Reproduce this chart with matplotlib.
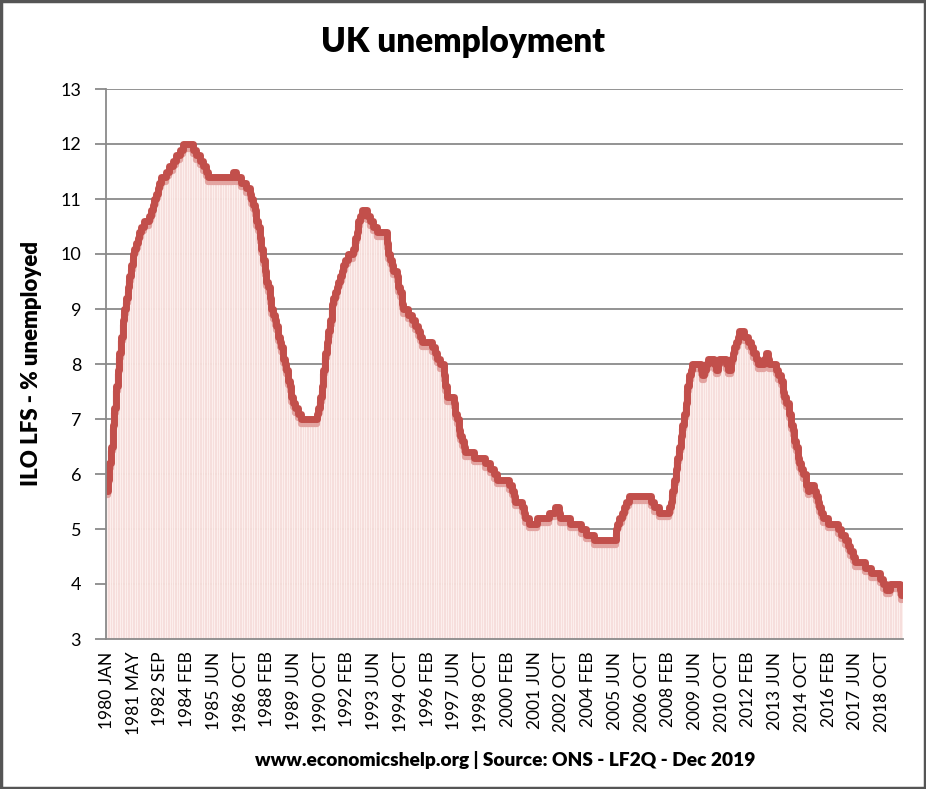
import matplotlib
matplotlib.use("Agg")
import matplotlib.pyplot as plt
import matplotlib.transforms as mtransforms
from matplotlib.patches import Rectangle
import numpy as np

plt.rcParams['font.family'] = ['Lato', 'DejaVu Sans']

# Monthly ILO unemployment rate (%), 1980 JAN onwards
rate = [
    5.7, 5.9, 6.2, 6.5, 6.9, 7.2, 7.6, 7.9, 8.2, 8.5, 8.8, 9.0,
    9.2, 9.4, 9.6, 9.8, 10.0, 10.1, 10.2, 10.3, 10.4, 10.5, 10.5, 10.6,
    10.6, 10.6, 10.7, 10.8, 10.9, 11.0, 11.1, 11.2, 11.3, 11.4, 11.4, 11.4,
    11.5, 11.5, 11.6, 11.6, 11.7, 11.7, 11.8, 11.8, 11.9, 11.9, 12.0, 12.0,
    12.0, 12.0, 12.0, 12.0, 11.9, 11.9, 11.8, 11.8, 11.7, 11.7, 11.6, 11.6,
    11.5, 11.4, 11.4, 11.4, 11.4, 11.4, 11.4, 11.4, 11.4, 11.4, 11.4, 11.4,
    11.4, 11.4, 11.4, 11.4, 11.5, 11.5, 11.4, 11.4, 11.4, 11.3, 11.3, 11.3,
    11.2, 11.2, 11.1, 11.0, 10.9, 10.8, 10.6, 10.5, 10.3, 10.1, 9.9, 9.7,
    9.5, 9.4, 9.2, 9.0, 8.9, 8.8, 8.7, 8.5, 8.4, 8.3, 8.1, 8.0,
    7.9, 7.7, 7.6, 7.4, 7.3, 7.2, 7.2, 7.1, 7.1, 7.0, 7.0, 7.0,
    7.0, 7.0, 7.0, 7.0, 7.0, 7.0, 7.1, 7.2, 7.4, 7.6, 7.9, 8.2,
    8.4, 8.6, 8.8, 9.1, 9.2, 9.3, 9.4, 9.5, 9.6, 9.7, 9.8, 9.9,
    9.9, 10.0, 10.0, 10.0, 10.1, 10.3, 10.4, 10.6, 10.7, 10.8, 10.8, 10.8,
    10.7, 10.7, 10.6, 10.6, 10.5, 10.5, 10.4, 10.4, 10.4, 10.4, 10.4, 10.4,
    10.2, 10.0, 9.9, 9.8, 9.7, 9.7, 9.6, 9.4, 9.3, 9.1, 9.0, 9.0,
    9.0, 8.9, 8.9, 8.8, 8.8, 8.7, 8.7, 8.6, 8.5, 8.4, 8.4, 8.4,
    8.4, 8.4, 8.4, 8.3, 8.3, 8.2, 8.1, 8.1, 8.0, 8.0, 7.8, 7.6,
    7.4, 7.4, 7.4, 7.4, 7.3, 7.1, 7.0, 6.8, 6.7, 6.6, 6.5, 6.4,
    6.4, 6.4, 6.4, 6.4, 6.3, 6.3, 6.3, 6.3, 6.3, 6.3, 6.3, 6.2,
    6.2, 6.2, 6.1, 6.1, 6.0, 6.0, 5.9, 5.9, 5.9, 5.9, 5.9, 5.9,
    5.9, 5.8, 5.8, 5.7, 5.6, 5.5, 5.5, 5.5, 5.5, 5.4, 5.3, 5.2,
    5.2, 5.1, 5.1, 5.1, 5.1, 5.1, 5.2, 5.2, 5.2, 5.2, 5.2, 5.2,
    5.2, 5.3, 5.3, 5.3, 5.3, 5.4, 5.4, 5.3, 5.2, 5.2, 5.2, 5.2,
    5.2, 5.2, 5.1, 5.1, 5.1, 5.1, 5.1, 5.1, 5.0, 5.0, 5.0, 4.9,
    4.9, 4.9, 4.9, 4.9, 4.8, 4.8, 4.8, 4.8, 4.8, 4.8, 4.8, 4.8,
    4.8, 4.8, 4.8, 4.8, 4.8, 5.0, 5.1, 5.2, 5.2, 5.3, 5.4, 5.5,
    5.5, 5.6, 5.6, 5.6, 5.6, 5.6, 5.6, 5.6, 5.6, 5.6, 5.6, 5.6,
    5.6, 5.6, 5.5, 5.5, 5.4, 5.4, 5.4, 5.3, 5.3, 5.3, 5.3, 5.3,
    5.3, 5.4, 5.5, 5.7, 5.9, 6.1, 6.3, 6.5, 6.7, 6.9, 7.1, 7.3,
    7.6, 7.8, 7.9, 8.0, 8.0, 8.0, 8.0, 8.0, 7.9, 7.8, 7.9, 8.0,
    8.1, 8.1, 8.1, 8.1, 8.0, 7.9, 8.0, 8.1, 8.1, 8.1, 8.1, 8.0,
    7.9, 7.9, 8.1, 8.2, 8.3, 8.4, 8.5, 8.6, 8.6, 8.6, 8.5, 8.5,
    8.4, 8.4, 8.3, 8.2, 8.2, 8.1, 8.0, 8.0, 8.0, 8.0, 8.1, 8.2,
    8.1, 8.0, 8.0, 8.0, 8.0, 7.9, 7.8, 7.8, 7.7, 7.5, 7.4, 7.3,
    7.3, 7.1, 6.9, 6.8, 6.6, 6.5, 6.3, 6.2, 6.1, 6.0, 6.0, 5.8,
    5.7, 5.8, 5.8, 5.8, 5.7, 5.6, 5.5, 5.4, 5.3, 5.2, 5.2, 5.2,
    5.1, 5.1, 5.1, 5.1, 5.1, 5.1, 5.0, 5.0, 4.9, 4.9, 4.8, 4.8,
    4.7, 4.6, 4.6, 4.5, 4.4, 4.4, 4.4, 4.4, 4.4, 4.4, 4.3, 4.3,
    4.3, 4.3, 4.2, 4.2, 4.2, 4.2, 4.2, 4.1, 4.1, 4.0, 4.0, 3.9,
    3.9, 4.0, 4.0, 4.0, 4.0, 4.0, 4.0, 3.9, 3.8,
]

tick_labels = [
    "1980 JAN", "1981 MAY", "1982 SEP", "1984 FEB", "1985 JUN", "1986 OCT",
    "1988 FEB", "1989 JUN", "1990 OCT", "1992 FEB", "1993 JUN", "1994 OCT",
    "1996 FEB", "1997 JUN", "1998 OCT", "2000 FEB", "2001 JUN", "2002 OCT",
    "2004 FEB", "2005 JUN", "2006 OCT", "2008 FEB", "2009 JUN", "2010 OCT",
    "2012 FEB", "2013 JUN", "2014 OCT", "2016 FEB", "2017 JUN", "2018 OCT",
]
label_step = 16

x = np.arange(len(rate))
vals = np.array(rate)

fig = plt.figure(figsize=(9.26, 7.89), dpi=100)
fig.patch.set_facecolor('white')
ax = fig.add_axes([106/926, 1 - 639/789, (903 - 106)/926, (639 - 89)/789])

grid_c = '#8a8a8a'
ax.set_ylim(3, 13)
ax.set_xlim(-0.5, len(rate) - 0.5)
ax.set_yticks(range(3, 14))
for yv in range(4, 14):
    ax.axhline(yv, color=grid_c, lw=1.3, zorder=1)

# pale columns
ax.bar(x, vals, width=1.0, color='#fcefed', edgecolor='#f5d9d6', linewidth=0.45, zorder=2)

# shaded under-line band and thick red line
shadow = mtransforms.offset_copy(ax.transData, fig=fig, x=0, y=-3.5, units='points')
ax.step(x, vals, where='mid', color='#e3a4a1', lw=4.5, zorder=3, transform=shadow,
        solid_capstyle='round', solid_joinstyle='round')
ax.step(x, vals, where='mid', color='#c24f4b', lw=5.0, zorder=4,
        solid_capstyle='round', solid_joinstyle='round')

ax.set_xticks(x[::label_step][:len(tick_labels)])
ax.set_xticklabels(tick_labels, rotation=90, fontsize=12.5, color='black')
ax.tick_params(axis='x', length=0, pad=9)
ax.tick_params(axis='y', length=8, width=1.3, color=grid_c, labelsize=13, pad=10)

for s in ['top', 'right']:
    ax.spines[s].set_visible(False)
for s in ['left', 'bottom']:
    ax.spines[s].set_color(grid_c)
    ax.spines[s].set_linewidth(1.3)
ax.spines['left'].set_zorder(5)

ax.set_ylabel("ILO LFS - % unemployed", fontsize=16, fontweight='heavy', labelpad=13)

fig.text(463/926, 1 - 42/789, "UK unemployment", fontsize=24, fontweight='heavy',
         ha='center', va='center')
fig.text(505/926, 1 - 760/789, "www.economicshelp.org | Source: ONS - LF2Q - Dec 2019",
         fontsize=13.8, fontweight='heavy', ha='center', va='center')

fig.patches.append(Rectangle((0.001, 0.001), 0.998, 0.998, transform=fig.transFigure,
                             fill=False, edgecolor='#555555', lw=2.5))

fig.savefig("out.png", dpi=100, facecolor='white')
